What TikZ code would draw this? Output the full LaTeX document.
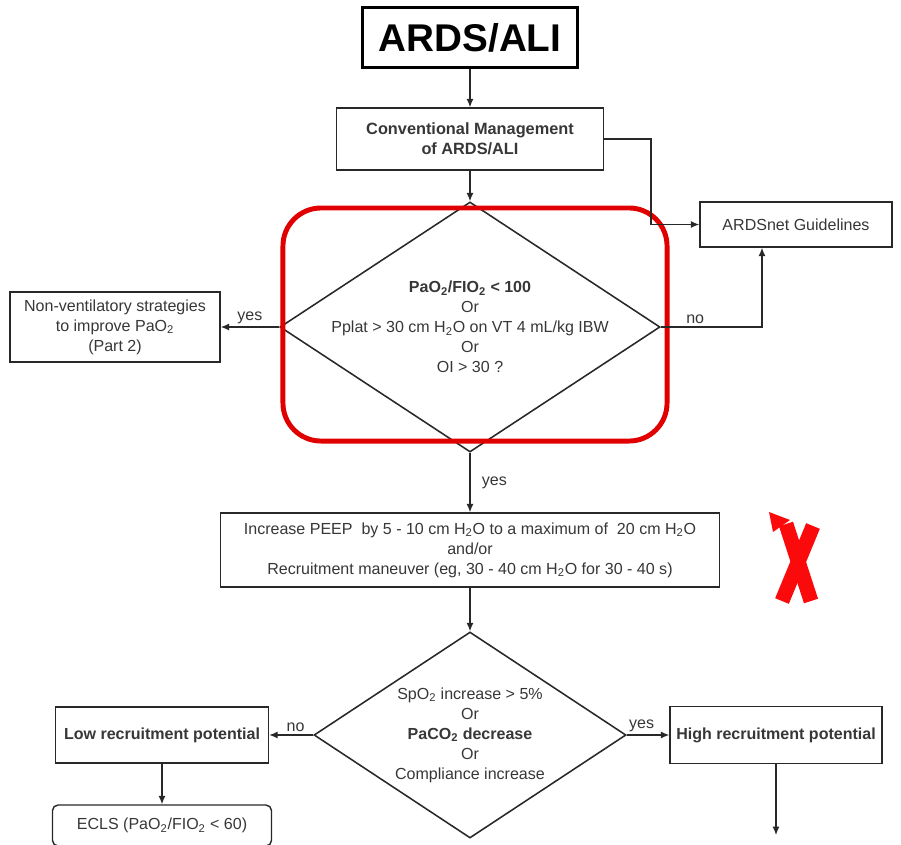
\documentclass[tikz,border=0pt]{standalone}
\usepackage{fontspec}
\setmainfont{Liberation Sans}
\usetikzlibrary{shapes.geometric,arrows.meta}

\begin{document}
\begin{tikzpicture}[x=0.025cm,y=-0.025cm,
  font=\fontsize{11.4}{14.2}\selectfont,
  box/.style={draw=linegray,line width=1pt,text=textgray,inner sep=2pt,align=center},
  decision/.style={draw=linegray,line width=1.1pt,shape=diamond,inner sep=0pt},
  arr/.style={draw=linegray,line width=0.9pt,-{Latex[length=6pt,width=5pt]}},
  lbl/.style={text=textgray,inner sep=2pt}]
% Define flowchart colours
\definecolor{linegray}{RGB}{40,40,40}
\definecolor{textgray}{RGB}{55,55,55}
\definecolor{alertred}{RGB}{225,0,0}
\definecolor{crossred}{RGB}{250,10,10}

% Page frame
\fill[white] (0,0) rectangle (901,844);
\useasboundingbox (0,0) rectangle (901,844);

% Draw top boxes
\node[box,draw=black,text=black,line width=2.5pt,minimum width=5.375cm,minimum height=1.5cm,
  font=\fontsize{27.5}{32}\selectfont\bfseries] (ards) at (470,37.5) {ARDS/ALI};
\node[box,font=\fontsize{11.6}{14}\selectfont\bfseries,minimum width=6.675cm,minimum height=1.55cm]
  (conv) at (470,139) {Conventional Management\\of ARDS/ALI};
\node[box,minimum width=4.8cm,minimum height=1.125cm] (net) at (796,224.5) {ARDSnet Guidelines};

% Draw first decision
\node[decision,minimum width=9.5cm,minimum height=6.25cm] (cond) at (470,327) {};
\node[text=textgray,align=center,inner sep=0pt] (condtext) at (cond.center)
  {\textbf{PaO\textsubscript{2}/FIO\textsubscript{2} < 100}\\Or\\Pplat > 30 cm H\textsubscript{2}O on VT 4 mL/kg IBW\\Or\\OI > 30 ?};
\node[draw=alertred,line width=3.5pt,rounded corners=0.95cm,minimum width=9.6cm,minimum height=5.825cm]
  (focus) at (475,324.5) {};
\node[box,minimum width=5.25cm,minimum height=1.75cm] (nonvent) at (115,327)
  {Non-ventilatory strategies\\to improve PaO\textsubscript{2}\\(Part 2)};

% Draw PEEP step
\node[box,minimum width=12.475cm,minimum height=1.85cm] (peep) at (470,550)
  {Increase PEEP\ \ by 5 - 10 cm H\textsubscript{2}O to a maximum of\ \ 20 cm H\textsubscript{2}O\\and/or\\Recruitment maneuver (eg, 30 - 40 cm H\textsubscript{2}O for 30 - 40 s)};

% Draw second decision
\node[decision,minimum width=7.8cm,minimum height=5.15cm] (recruit) at (470,735) {};
\node[text=textgray,align=center,inner sep=0pt] (recruittext) at (recruit.center)
  {SpO\textsubscript{2} increase > 5\%\\Or\\\textbf{PaCO\textsubscript{2} decrease}\\Or\\Compliance increase};
\node[box,font=\fontsize{11.4}{14.2}\selectfont\bfseries,minimum width=5.325cm,minimum height=1.4cm]
  (low) at (162,735) {Low recruitment potential};
\node[box,rounded corners=4pt,minimum width=5.475cm,minimum height=1.025cm]
  (ecls) at (162,825.5) {ECLS (PaO\textsubscript{2}/FIO\textsubscript{2} < 60)};
\node[box,font=\fontsize{11.4}{14.2}\selectfont\bfseries,minimum width=5.3cm,minimum height=1.425cm]
  (high) at (776,735) {High recruitment potential};
\coordinate (highout) at (776,835);
\coordinate (bend) at (651,180);

% Add connectors
\draw[arr] (ards) -- (conv);
\draw[arr] (conv) -- (cond.north);
\draw[arr] (conv.east) -| (bend) |- (net.west);
\draw[arr] (cond.east) -| node[lbl,pos=0.17,above] {no} ([xshift=-0.85cm]net.south);
\draw[arr] (cond.west) -- node[lbl,midway,above] {yes} (nonvent.east);
\draw[arr] (cond.south) -- node[lbl,midway,right,xshift=6pt] {yes} (peep.north);
\draw[arr] (peep) -- (recruit.north);
\draw[arr] (recruit.west) -- node[lbl,pos=0.4,above] {no} (low.east);
\draw[arr] (recruit.east) -- node[lbl,pos=0.35,above] {yes} (high.west);
\draw[arr] (low) -- (ecls);
\draw[arr] (high) -- (highout);

% Add red cross mark
\draw[crossred,line width=10.5pt] (786,524) -- (811,601);
\draw[crossred,line width=10.5pt] (813,526) -- (782,601);
\fill[crossred] (769,512) -- (790,520) -- (773,532) -- cycle;
\end{tikzpicture}
\end{document}
